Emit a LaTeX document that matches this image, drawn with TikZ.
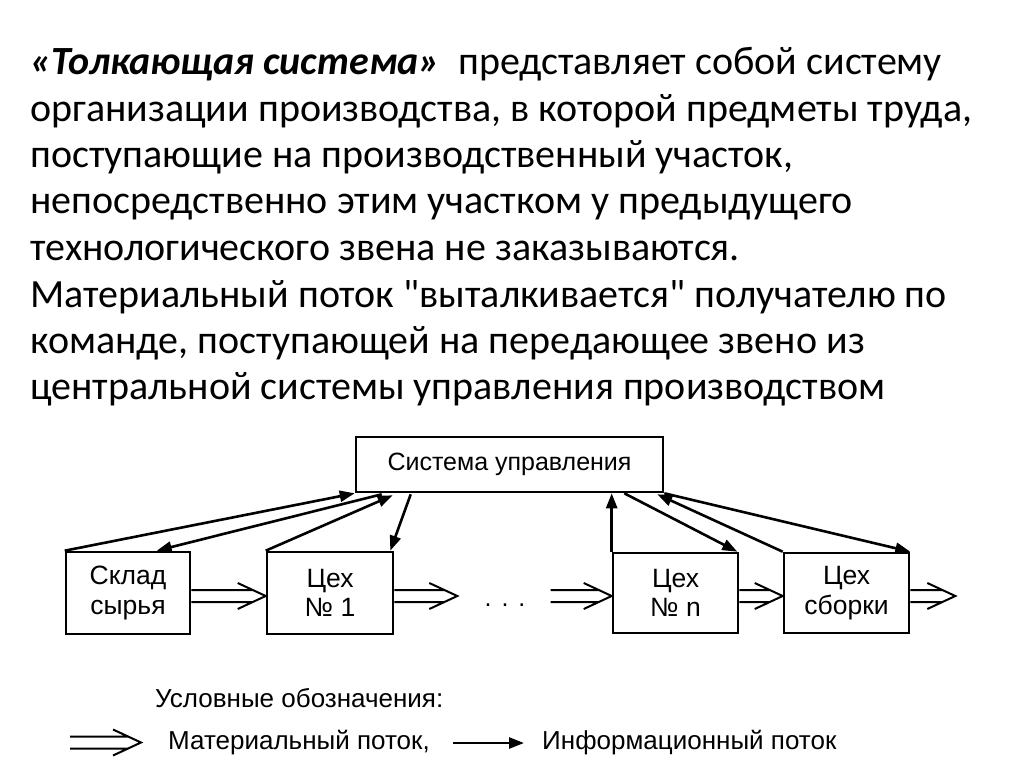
\documentclass[tikz,border=0pt]{standalone}
\usepackage{fontspec}
\setmainfont{Carlito}[Ligatures=TeXOff]
\newfontfamily\arialf{Liberation Sans}
\usetikzlibrary{arrows.meta,calc}
\tikzset{
  box/.style={draw, line width=2.6pt, inner sep=0pt, align=center,
    font=\arialf\fontsize{26.5}{29.5}\selectfont},
  info/.style={line width=2.6pt, -{Triangle[length=15pt,width=11pt]}},
  matline/.style={line width=2pt},
  txt/.style={anchor=base west, inner sep=0pt, font=\fontsize{40}{46}\selectfont},
  legtxt/.style={anchor=west, inner sep=0pt, font=\arialf\fontsize{26}{30}\selectfont},
}
\newcommand\matflow[2]{%
  \draw[matline] ($(#1)+(0,-6)$) -- ($(#2)+(-13,-6)$)
    ($(#1)+(0,6)$) -- ($(#2)+(-13,6)$)
    ($(#2)+(-28,-13)$) -- (#2) -- ($(#2)+(-28,13)$);}
\begin{document}
\begin{tikzpicture}[x=1pt,y=-1pt]
\fill[white] (0,0) rectangle (1024,767);
\useasboundingbox (0,0) rectangle (1024,767);
% text
\node[txt] (l1) at (30,75) {\textbf{\textit{«Толкающая система»}}\hspace{9pt} представляет собой систему};
\node[txt] (l2) at (30,121.5) {организации производства, в которой предметы труда,};
\node[txt] (l3) at (30,168) {поступающие на производственный участок,};
\node[txt] (l4) at (30,214) {непосредственно этим участком у предыдущего};
\node[txt] (l5) at (30,260.5) {технологического звена не заказываются.};
\node[txt] (l6) at (30,307) {Материальный поток "выталкивается" получателю по};
\node[txt] (l7) at (30,353) {команде, поступающей на передающее звено из};
\node[txt] (l8) at (30,399) {центральной системы управления производством};
% boxes
\node[box, minimum width=307pt, minimum height=55pt, font=\arialf\fontsize{25}{28}\selectfont] (sys) at (509.5,464.5) {Система управления};
\node[box, minimum width=124pt, minimum height=82pt] (skl) at (128,593) {Склад\\сырья};
\node[box, minimum width=126pt, minimum height=82pt] (c1) at (330,593) {Цех\\№ 1};
\node[box, minimum width=125pt, minimum height=80pt] (cn) at (675.5,593) {Цех\\№ n};
\node[box, minimum width=125pt, minimum height=80pt] (cs) at (846.5,593) {Цех\\сборки};
% material flows
\coordinate (m1a) at ($(skl.east)+(0,3)$);
\coordinate (m1b) at ($(c1.west)+(0,3)$);
\matflow{m1a}{m1b}
\coordinate (m2a) at ($(c1.east)+(0,3)$);
\coordinate (m2b) at ($(c1.east)+(63,3)$);
\matflow{m2a}{m2b}
\node[anchor=base, inner sep=0pt, font=\arialf\fontsize{25}{29}\selectfont] (dots) at (505,606) {.\hspace{10pt}.\hspace{10pt}.};
\coordinate (m3a) at ($(cn.west)+(-61,3)$);
\coordinate (m3b) at ($(cn.west)+(0,3)$);
\matflow{m3a}{m3b}
\coordinate (m4a) at ($(cn.east)+(0,3)$);
\coordinate (m4b) at ($(cs.west)+(0,3)$);
\matflow{m4a}{m4b}
\coordinate (m5a) at ($(cs.east)+(0,3)$);
\coordinate (m5b) at ($(cs.east)+(45,3)$);
\matflow{m5a}{m5b}
% information flows
\draw[info] (skl.north west) -- (sys.south west);
\draw[info] ($(sys.south west)+(27,1)$) -- ($(skl.north west)+(92,0)$);
\draw[info] (c1.north west) -- ($(sys.south west)+(38,2)$);
\draw[info] ($(sys.south west)+(56,1)$) -- ($(c1.north east)+(-4,0)$);
\draw[info] (cn.north west) -- (cn.north west |- sys.south);
\draw[info] ($(sys.south east)+(-40,0)$) -- ($(cn.north east)+(-2,0)$);
\draw[info] (cs.north west) -- ($(sys.south east)+(-7,1)$);
\draw[info] (sys.south east) -- (cs.north east);
% legend
\node[legtxt] (lgt) at (155,698) {Условные обозначения:};
\coordinate (lm1) at (70,742.5);
\coordinate (lm2) at (141,742.5);
\matflow{lm1}{lm2}
\node[legtxt] (lmt) at (168,743) {Материальный поток,};
\coordinate (li1) at (453,743);
\coordinate (li2) at (524,743);
\draw[info] (li1) -- (li2);
\node[legtxt] (lit) at (542,743) {Информационный поток};
\end{tikzpicture}
\end{document}
